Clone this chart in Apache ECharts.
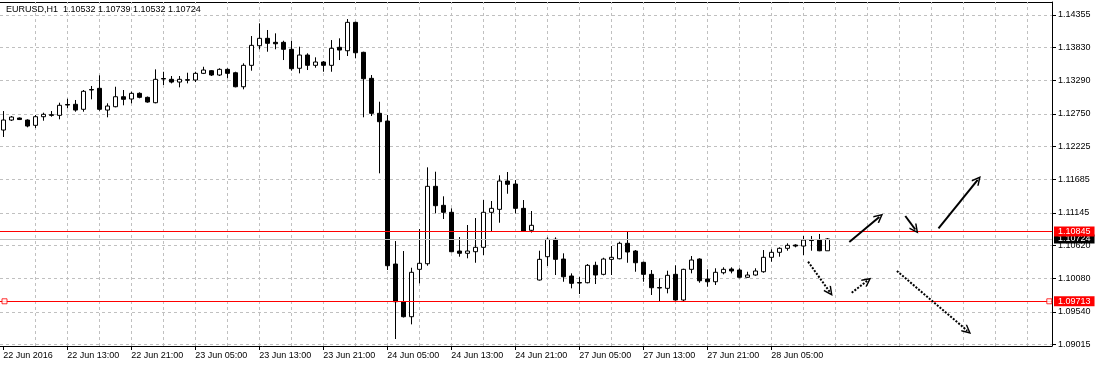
<!DOCTYPE html>
<html><head><meta charset="utf-8">
<script src="https://cdn.jsdelivr.net/npm/echarts@6/dist/echarts.min.js"></script>
<style>html,body{margin:0;padding:0;background:#fff}#c{width:1095px;height:368px}</style>
</head><body><div id="c"></div>
<script>
const symbolName = 'EURUSD,H1';
const opens = [1.12490,1.12652,1.12685,1.12652,1.12566,1.12706,1.12738,1.12728,1.12904,1.12907,
1.12826,1.13147,1.13166,1.12814,1.12868,1.13030,1.12993,1.13085,1.13020,1.12933,
1.13325,1.13312,1.13268,1.13306,1.13301,1.13409,1.13452,1.13382,1.13474,1.13419,
1.13192,1.13539,1.13857,1.13977,1.13912,1.13912,1.13799,1.13491,1.13706,1.13539,
1.13593,1.13539,1.13831,1.13776,1.14236,1.13750,1.13328,1.12761,1.12636,1.10317,
1.09706,1.09463,1.10231,1.10322,1.11577,1.11269,1.11156,1.10528,1.10491,1.10517,
1.10588,1.11156,1.11204,1.11663,1.11614,1.11220,1.10864,1.10058,1.10436,1.10718,
1.10398,1.10123,1.10017,1.10014,1.10296,1.10150,1.10393,1.10403,1.10653,1.10528,
1.10345,1.10150,1.09936,1.09923,1.10150,1.09734,1.10231,1.10398,1.10074,1.10030,
1.10176,1.10236,1.10220,1.10102,1.10139,1.10192,1.10426,1.10507,1.10572,1.10625,
1.10609,1.10706,1.10706,1.10532];
const closes = [1.12652,1.12701,1.12660,1.12555,1.12706,1.12745,1.12728,1.12891,1.12895,1.12814,
1.13118,1.13139,1.12826,1.12879,1.13030,1.12988,1.13085,1.13020,1.12944,1.13312,
1.13317,1.13268,1.13312,1.13298,1.13409,1.13463,1.13382,1.13474,1.13409,1.13192,
1.13539,1.13863,1.13977,1.13896,1.13889,1.13799,1.13484,1.13706,1.13539,1.13593,
1.13539,1.13815,1.13787,1.14236,1.13743,1.13322,1.12761,1.12625,1.10290,1.09706,
1.09463,1.10183,1.10329,1.11577,1.11263,1.11156,1.10517,1.10491,1.10528,1.10588,
1.11156,1.11220,1.11663,1.11610,1.11220,1.10852,1.10945,1.10393,1.10718,1.10393,
1.10111,1.10004,1.10009,1.10296,1.10139,1.10398,1.10426,1.10653,1.10512,1.10338,
1.10150,1.09933,1.09928,1.10134,1.09734,1.10231,1.10382,1.10046,1.10030,1.10183,
1.10231,1.10204,1.10102,1.10139,1.10204,1.10426,1.10507,1.10572,1.10620,1.10609,
1.10706,1.10698,1.10532,1.10724];
const lows = [1.12377,1.12636,1.12652,1.12534,1.12522,1.12641,1.12706,1.12664,1.12842,1.12787,
1.12787,1.12988,1.12803,1.12696,1.12858,1.12891,1.12923,1.13004,1.12933,1.12923,
1.13220,1.13247,1.13182,1.13247,1.13268,1.13398,1.13366,1.13366,1.13328,1.13182,
1.13150,1.13452,1.13799,1.13760,1.13799,1.13625,1.13452,1.13409,1.13463,1.13500,
1.13435,1.13435,1.13625,1.13690,1.13653,1.12696,1.12717,1.11788,1.10220,1.09101,
1.09450,1.09339,1.10004,1.10290,1.11139,1.11047,1.10507,1.10436,1.10410,1.10338,
1.10463,1.10852,1.10987,1.11457,1.11139,1.10844,1.10828,1.10050,1.10285,1.10139,
1.10030,1.09923,1.09831,1.10004,1.09993,1.10134,1.10139,1.10393,1.10338,1.10192,
1.10030,1.09815,1.09706,1.09842,1.09722,1.09717,1.10166,1.10014,1.09949,1.09977,
1.10150,1.10166,1.10085,1.10093,1.10128,1.10176,1.10355,1.10436,1.10533,1.10588,
1.10463,1.10533,1.10525,1.10532];
const highs = [1.12798,1.12717,1.12693,1.12664,1.12733,1.12771,1.12798,1.12933,1.12998,1.12977,
1.13139,1.13204,1.13377,1.12923,1.13192,1.13139,1.13111,1.13101,1.13033,1.13474,
1.13435,1.13366,1.13366,1.13419,1.13435,1.13516,1.13463,1.13491,1.13491,1.13435,
1.13572,1.14014,1.14220,1.14112,1.14058,1.13938,1.13938,1.13841,1.13734,1.13669,
1.13609,1.13949,1.13977,1.14290,1.14246,1.13760,1.13382,1.12949,1.12733,1.10690,
1.10528,1.10257,1.10885,1.11885,1.11814,1.11415,1.11220,1.10755,1.10950,1.11063,
1.11355,1.11339,1.11756,1.11809,1.11679,1.11355,1.11177,1.10533,1.10750,1.10750,
1.10491,1.10166,1.10111,1.10317,1.10355,1.10419,1.10609,1.10679,1.10852,1.10544,
1.10355,1.10220,1.10085,1.10209,1.10296,1.10241,1.10447,1.10410,1.10231,1.10248,
1.10264,1.10264,1.10248,1.10192,1.10248,1.10544,1.10556,1.10588,1.10653,1.10637,
1.10771,1.10771,1.10804,1.10739];

const xTickIdx = [0,8,16,24,32,40,48,56,64,72,80,88,96];
const xTickLabels = ['22 Jun 2016','22 Jun 13:00','22 Jun 21:00','23 Jun 05:00','23 Jun 13:00',
  '23 Jun 21:00','24 Jun 05:00','24 Jun 13:00','24 Jun 21:00','27 Jun 05:00','27 Jun 13:00',
  '27 Jun 21:00','28 Jun 05:00'];
const yTickValues = [1.09015,1.09540,1.10080,1.10620,1.11145,1.11685,1.12225,1.12750,1.13290,1.13830,1.14355];
const redLevels = [1.10845, 1.09713];
const bidLevel = 1.10724;
const handleIdx = [0.15, 130.75];
const solidArrows = [
  [[105.75,1.10674],[109.5,1.11081]],
  [[112.75,1.11096],[114.0,1.10877]],
  [[116.9,1.10896],[121.8,1.11683]]
];
const dottedArrows = [
  [[100.6,1.10355],[103.3,1.09866]],
  [[106.05,1.09852],[108.0,1.10046]],
  [[111.7,1.10204],[120.5,1.09236]]
];

const FONT = 'Liberation Sans';
const candleData = opens.map((o, i) => [i, o, closes[i], lows[i], highs[i]]);
const last = candleData.length - 1;
const titleText = symbolName + '  ' + [opens[last], highs[last], lows[last], closes[last]].map(v => v.toFixed(5)).join(' ');
const chevron = 'path://M5,0 L10,9 L8.8,10 L5,3.2 L1.2,10 L0,9 Z';
const X_MIN = -0.4125, X_MAX = 131.0875;
const vGridIdx = [];
for (let i = 4; i < X_MAX; i += 4) vGridIdx.push(i);

const chart = echarts.init(document.getElementById('c'), null, {renderer: 'canvas'});
chart.setOption({
  animation: false,
  backgroundColor: '#ffffff',
  title: {
    text: titleText, left: 6, top: 5, padding: 0,
    textStyle: {fontFamily: FONT, fontSize: 9, fontWeight: 'normal', color: '#000'}
  },
  grid: {left: 0, right: 43, top: 2, bottom: 22, containLabel: false},
  xAxis: [{
    type: 'value', min: X_MIN, max: X_MAX, position: 'bottom',
    axisLine: {show: true, onZero: false, lineStyle: {color: '#000', width: 1}},
    axisTick: {show: true, length: 4, customValues: xTickIdx, lineStyle: {color: '#000'}},
    axisLabel: {
      show: true, customValues: xTickIdx, align: 'left', margin: 5,
      fontFamily: FONT, fontSize: 9, color: '#000',
      formatter: v => { const k = xTickIdx.indexOf(Math.round(v)); return k >= 0 ? xTickLabels[k] : ''; }
    },
    splitLine: {show: false}
  }, {
    type: 'value', min: X_MIN, max: X_MAX, position: 'top',
    axisLine: {show: true, onZero: false, lineStyle: {color: '#000', width: 1}},
    axisTick: {show: false}, axisLabel: {show: false}, splitLine: {show: false}
  }],
  yAxis: {
    type: 'value', position: 'right', min: 1.08988, max: 1.14566, scale: true,
    axisLine: {show: true, onZero: false, lineStyle: {color: '#000', width: 1}},
    axisTick: {show: true, length: 4, customValues: yTickValues, lineStyle: {color: '#000'}},
    axisLabel: {show: true, customValues: yTickValues, margin: 6, fontFamily: FONT, fontSize: 9, color: '#000',
      formatter: v => v.toFixed(5)},
    splitLine: {show: false}
  },
  series: [
    {
      type: 'line', data: [], silent: true,
      markLine: {
        silent: true, z: 1, precision: 5, symbol: ['none', 'none'], animation: false,
        label: {show: false},
        lineStyle: {color: '#c0c0c0', type: [3, 3], width: 1},
        data: yTickValues.map(v => ({yAxis: v})).concat(vGridIdx.map(i => ({xAxis: i})))
      }
    },
    {
      type: 'candlestick', z: 3,
      data: candleData,
      barWidth: 5,
      itemStyle: {color: '#ffffff', color0: '#000000', borderColor: '#000000', borderColor0: '#000000', borderWidth: 1}
    },
    {
      type: 'line', data: [], silent: true,
      markLine: {
        silent: true, z: 4, precision: 5, symbol: ['none', 'none'], animation: false,
        data: [
          {yAxis: bidLevel, lineStyle: {color: '#c0c0c0', width: 1, type: 'solid'},
           label: {show: true, position: 'end', distance: 2, formatter: () => bidLevel.toFixed(5),
             color: '#fff', backgroundColor: '#000', padding: [1, 4, 0, 4], lineHeight: 8, fontFamily: FONT, fontSize: 9}},
          ...redLevels.map(v => ({yAxis: v, lineStyle: {color: '#ff0000', width: 1, type: 'solid'},
           label: {show: true, position: 'end', distance: 2, formatter: () => v.toFixed(5),
             color: '#fff', backgroundColor: '#ff0000', padding: [1, 4, 0, 4], lineHeight: 9, fontFamily: FONT, fontSize: 9}}))
        ]
      }
    },
    {
      type: 'scatter', z: 5, silent: true, symbol: 'rect', symbolSize: 5,
      itemStyle: {color: '#ffffff', borderColor: '#ff0000', borderWidth: 1},
      data: handleIdx.map(i => [i, redLevels[1]])
    },
    {
      type: 'line', data: [], silent: true,
      markLine: {
        silent: true, z: 6, precision: 5, animation: false,
        symbol: ['none', chevron], symbolSize: [9, 10],
        label: {show: false},
        data: [
          ...solidArrows.map(a => [{coord: a[0], lineStyle: {color: '#000', width: 2, type: 'solid'}}, {coord: a[1]}]),
          ...dottedArrows.map(a => [{coord: a[0], lineStyle: {color: '#000', width: 2, type: [2, 1.5]}}, {coord: a[1]}])
        ]
      }
    }
  ]
});
</script>
</body></html>
